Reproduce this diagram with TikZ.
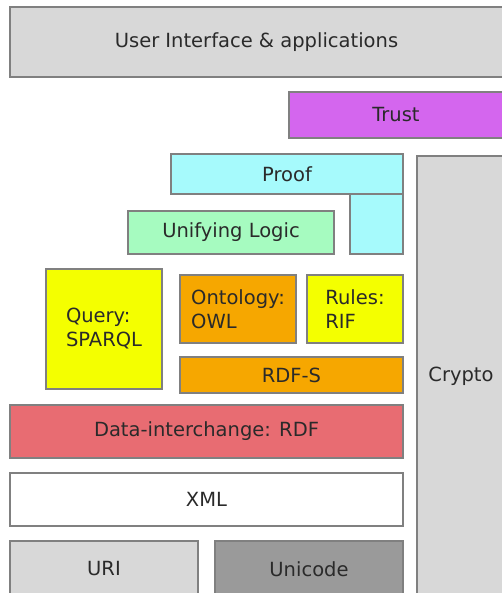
\documentclass[tikz,border=0pt]{standalone}
\usepackage{fontspec}
\setmainfont{DejaVu Sans}
\usepackage{xcolor}
\usetikzlibrary{positioning}

\definecolor{uigrey}{HTML}{D8D8D8}
\definecolor{trustpink}{HTML}{D466EE}
\definecolor{proofcyan}{HTML}{A6FAFC}
\definecolor{logicmint}{HTML}{A6FBC0}
\definecolor{queryyellow}{HTML}{F4FF00}
\definecolor{owlorange}{HTML}{F6A700}
\definecolor{rdfred}{HTML}{E86C72}
\definecolor{unigrey}{HTML}{9A9A9A}
\definecolor{edgegrey}{HTML}{808080}
\definecolor{textgrey}{HTML}{2A2A2A}

\tikzset{
	layer/.style={draw=edgegrey, line width=1.2pt, rectangle, anchor=north west,
		inner sep=0pt, outer sep=0pt, text=textgrey,
		font=\fontsize{19.5}{24}\selectfont},
	twoline/.style={align=left}
}

\begin{document}
\begin{tikzpicture}[x=1pt, y=-1pt]
	\useasboundingbox (0,0) rectangle (501,593);
	\node[layer, fill=uigrey, minimum width=493, minimum height=70] (ui) at (10,7) {User Interface \& applications};
	\node[layer, fill=trustpink, minimum width=214, minimum height=46] (trust) at (289,92) {Trust};
	\node[layer, fill=proofcyan, minimum width=232, minimum height=40] (proof) at (171,154) {Proof};
	\node[layer, fill=proofcyan, minimum width=53, minimum height=60] (prooftail) at (350,194) {};
	\node[layer, fill=uigrey, minimum width=88, minimum height=441] (crypto) at (417,156) {Crypto};
	\node[layer, fill=logicmint, minimum width=206, minimum height=43] (logic) at (128,211) {Unifying Logic};
	\node[layer, fill=queryyellow, minimum width=116, minimum height=120, twoline] (query) at (46,269) {Query:\\SPARQL};
	\node[layer, fill=owlorange, minimum width=116, minimum height=68, twoline] (owl) at (180,275) {Ontology:\\OWL};
	\node[layer, fill=queryyellow, minimum width=96, minimum height=68, twoline] (rif) at (307,275) {Rules:\\RIF};
	\node[layer, fill=owlorange, minimum width=223, minimum height=36] (rdfs) at (180,357) {RDF-S};
	\node[layer, fill=rdfred, minimum width=393, minimum height=53] (rdf) at (10,405) {Data-interchange: RDF};
	\node[layer, fill=white, minimum width=393, minimum height=53] (xml) at (10,473) {XML};
	\node[layer, fill=uigrey, minimum width=188, minimum height=56] (uri) at (10,541) {URI};
	\node[layer, fill=unigrey, minimum width=188, minimum height=56] (unicode) at (215,541) {Unicode};
\end{tikzpicture}
\end{document}
